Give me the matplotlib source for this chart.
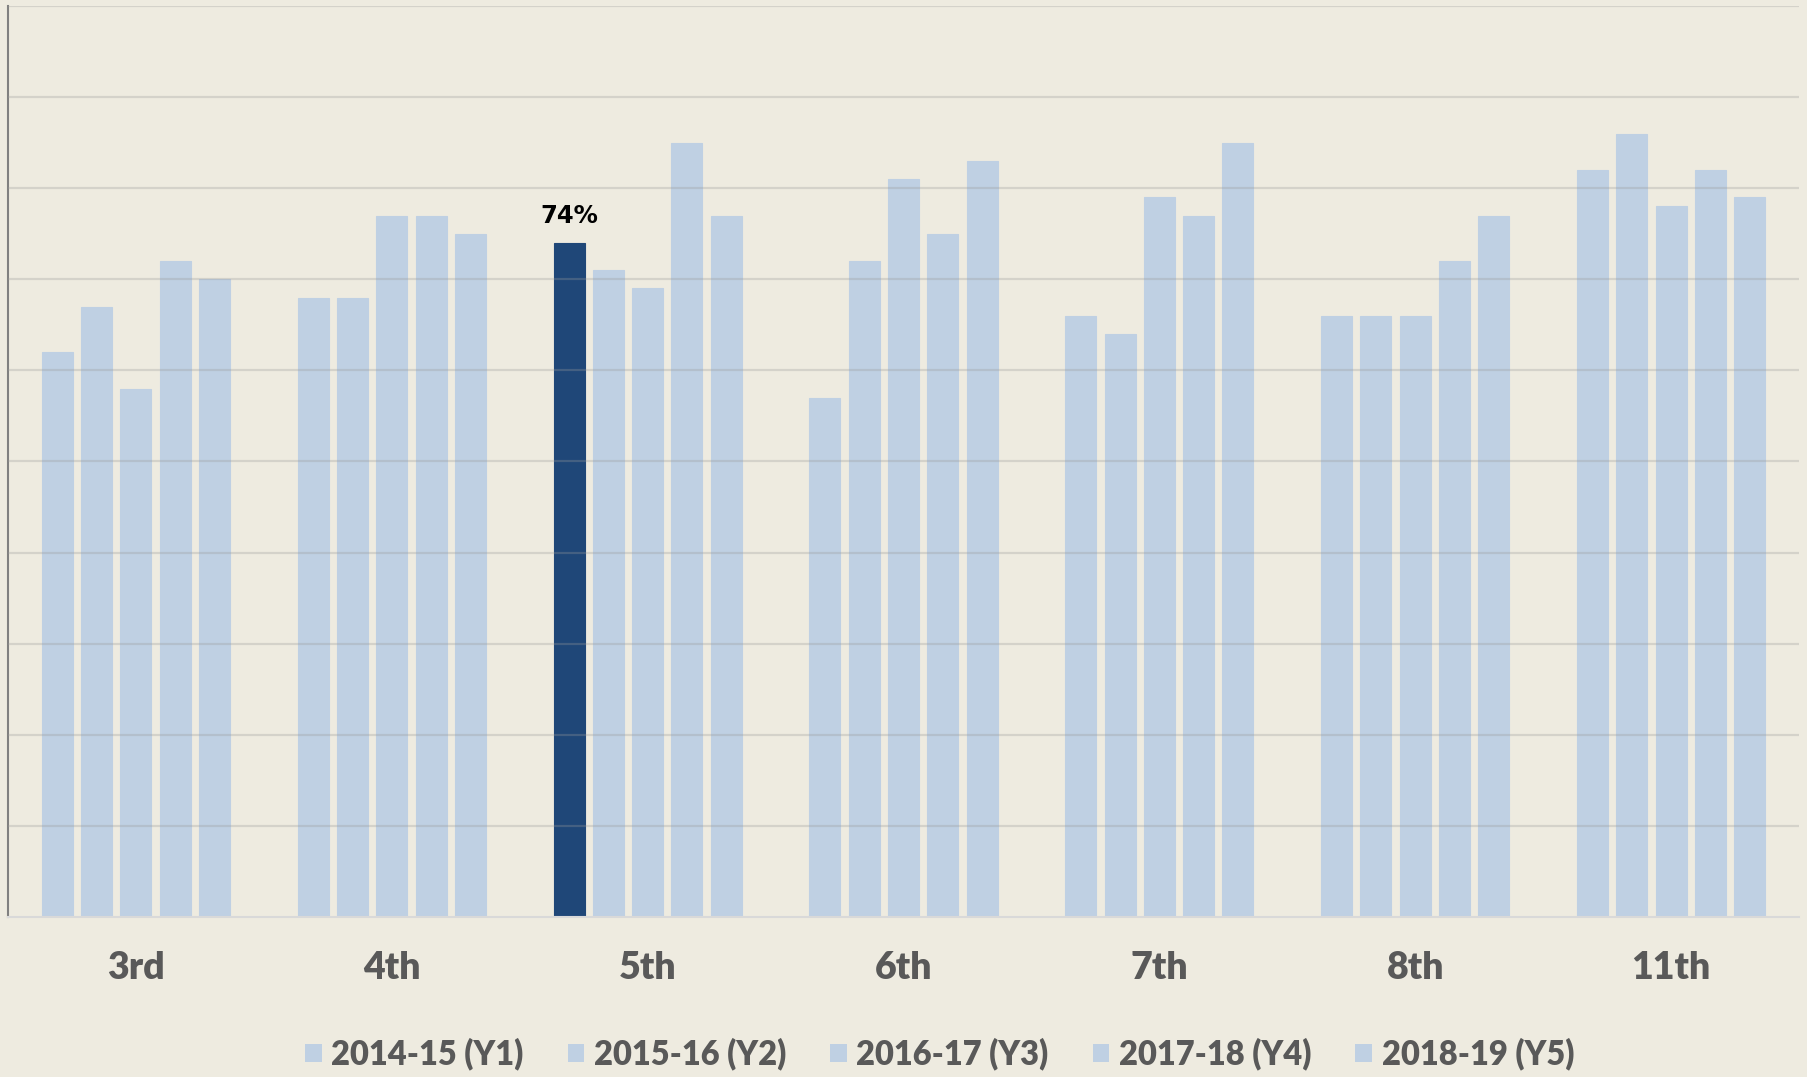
import numpy as np
import matplotlib.pyplot as plt
from matplotlib.patches import Patch

grades = ['3rd', '4th', '5th', '6th', '7th', '8th', '11th']
years = ['2014-15 (Y1)', '2015-16 (Y2)', '2016-17 (Y3)', '2017-18 (Y4)', '2018-19 (Y5)']

# percent values per year, one entry per grade
y1 = [62, 68, 74, 57, 66, 66, 82]
y2 = [67, 68, 71, 72, 64, 66, 86]
y3 = [58, 77, 69, 81, 79, 66, 78]
y4 = [72, 77, 85, 75, 77, 72, 82]
y5 = [70, 75, 77, 83, 85, 77, 79]
series = [y1, y2, y3, y4, y5]

highlight_grade = '5th'
highlight_label = '74%'

bg = '#EEEBE0'
light = '#BFD0E3'
dark = '#1F4778'
grey = '#595959'

fig = plt.figure(figsize=(18.07, 10.77), dpi=100, facecolor=bg)
ax = fig.add_axes([0.0044, 0.1486, 0.9912, 0.8458])
ax.set_facecolor(bg)

x = np.arange(len(grades))
pitch = 0.1535
width = 0.121
for i, vals in enumerate(series):
    cols = [light] * len(grades)
    if i == 0:
        cols[grades.index(highlight_grade)] = dark
    ax.bar(x + (i - 2) * pitch, vals, width, color=cols, edgecolor=cols,
           linewidth=0.8, zorder=2)

hi = grades.index(highlight_grade)
ax.text(hi - 2 * pitch, y1[hi] + 1.6, highlight_label, ha='center', va='bottom',
        fontsize=17.5, fontweight='bold', color='black')

ax.set_xlim(-0.5, len(grades) - 0.5)
ax.set_ylim(0, 100)
ax.set_yticks(np.arange(10, 101, 10))
ax.yaxis.grid(True, color='#9A9A9A', alpha=0.3, linewidth=1.6, zorder=3)
ax.set_axisbelow(False)
ax.tick_params(axis='y', left=False, labelleft=False)
ax.set_xticks(x)
ax.set_xticklabels(grades, fontsize=27, fontweight='heavy', color=grey, family=['Lato', 'DejaVu Sans'])
ax.tick_params(axis='x', bottom=False, pad=21)

for s in ['top', 'right']:
    ax.spines[s].set_visible(False)
ax.spines['left'].set_color('#808080')
ax.spines['left'].set_linewidth(1.5)
ax.spines['bottom'].set_color('#D9D9D9')
ax.spines['bottom'].set_linewidth(1.5)

handles = [Patch(facecolor=light, edgecolor='none') for _ in years]
fig.legend(handles, years, loc='center', bbox_to_anchor=(0.52, 0.021), ncol=5,
           frameon=False, handlelength=0.5, handleheight=0.5, handletextpad=0.3,
           columnspacing=1.35,
           prop={'family': ['Lato', 'DejaVu Sans'], 'weight': 'heavy', 'size': 23.5},
           labelcolor=grey)

fig.savefig('out.png', dpi=100, facecolor=bg)
